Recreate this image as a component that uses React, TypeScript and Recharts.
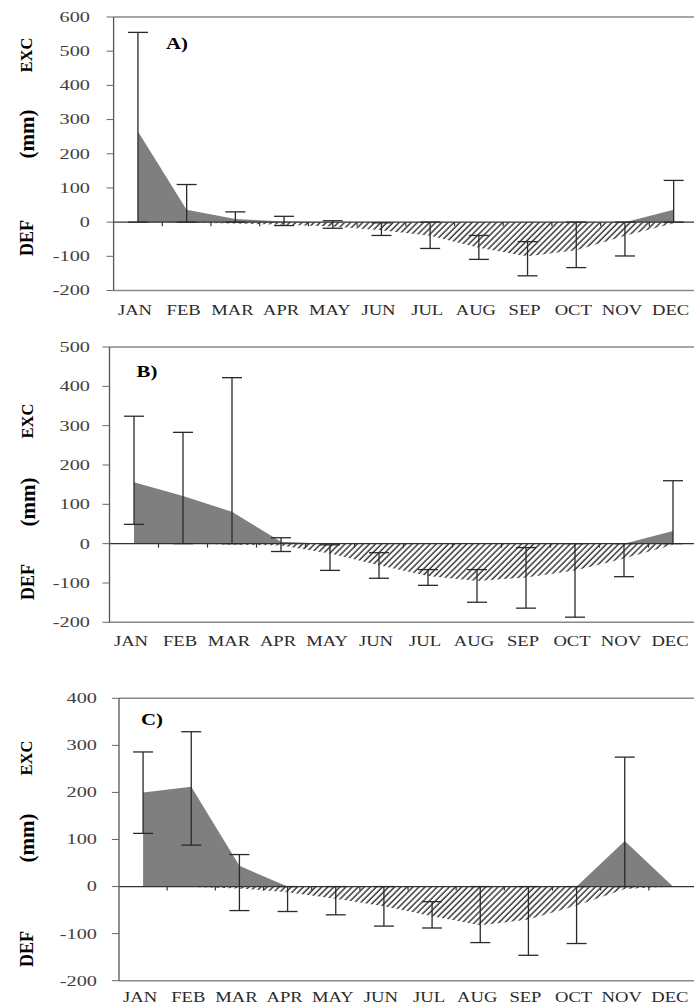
import React from "react";
import { ComposedChart, Area, Line, XAxis, YAxis, ReferenceLine, ErrorBar } from "recharts";

const months = ["JAN", "FEB", "MAR", "APR", "MAY", "JUN", "JUL", "AUG", "SEP", "OCT", "NOV", "DEC"];
const monthTicks = months.map((_, i) => i);

// A) excess / deficit (mm) and error bar ends
const excA = [265, 36, 9, 2, 0, 0, 0, 0, 0, 0, 0, 36];
const defA = [-1, -2, -4, -8, -13, -24, -40, -75, -100, -82, -40, -3];
const lowA = [0, 0, 0, -10, -18, -39, -77, -109, -157, -133, -99, 0];
const highA = [555, 110, 30, 17, 4, -2, 0, -39, -57, 0, 0, 122];
const ticksA = [-200, -100, 0, 100, 200, 300, 400, 500, 600];

// B)
const excB = [156, 121, 81, 5, 0, 0, 0, 0, 0, 0, 0, 32];
const defB = [0, 0, -2, -5, -25, -55, -82, -95, -86, -68, -38, -3];
const lowB = [49, 0, 0, -20, -68, -88, -106, -149, -164, -187, -84, 0];
const highB = [324, 283, 422, 15, -3, -23, -66, -66, -10, 0, 0, 160];
const ticksB = [-200, -100, 0, 100, 200, 300, 400, 500];

// C)
const excC = [200, 212, 44, 0, 0, 0, 0, 0, 0, 0, 97, 0];
const defC = [0, -1, -4, -12, -26, -42, -63, -82, -70, -40, -5, 0];
const lowC = [113, 88, -51, -53, -60, -84, -88, -119, -146, -121, 0, null];
const highC = [286, 329, 68, 0, 0, 0, -32, 0, 0, 0, 275, null];
const ticksC = [-200, -100, 0, 100, 200, 300, 400];

const SERIF = "'Liberation Serif', 'Times New Roman', serif";

function buildRows(exc: number[], def: number[], low: (number | null)[], high: (number | null)[]) {
  return months.map((m, i) => ({
    idx: i,
    month: m,
    exc: exc[i],
    def: def[i],
    errBase: low[i] == null ? 0 : low[i],
    err: low[i] == null || high[i] == null ? null : [0, (high[i] as number) - (low[i] as number)],
  }));
}

const YTick = (props: any) => {
  const { x, y, payload } = props;
  return (
    <text
      transform={`translate(${x},${y}) scale(1.45,1)`}
      textAnchor="end"
      dy="0.35em"
      fontFamily={SERIF}
      fontSize={14}
      fill="#404040"
    >
      {payload.value}
    </text>
  );
};

const XTick = (props: any) => {
  const { x, y, payload } = props;
  return (
    <text
      transform={`translate(${x - 3},${y}) scale(1.2,1)`}
      textAnchor="middle"
      dy="0.36em"
      fontFamily={SERIF}
      fontSize={15.5}
      fill="#2a2a2a"
    >
      {months[payload.value]}
    </text>
  );
};

// zero line with small tick marks at the month boundaries
const ZeroLine = (props: any) => {
  const { x1, x2, y1 } = props;
  const step = (x2 - x1) / months.length;
  return (
    <g>
      <line x1={x1} x2={x2} y1={y1} y2={y1} stroke="#333" strokeWidth={1.3} />
      {months.slice(1).map((m, k) => (
        <line key={m} x1={x1 + step * (k + 1)} x2={x1 + step * (k + 1)} y1={y1} y2={y1 + 4} stroke="#333" strokeWidth={1.2} />
      ))}
    </g>
  );
};

interface PanelProps {
  id: string;
  rows: ReturnType<typeof buildRows>;
  ticks: number[];
  top: number;
  height: number;
  marginTop: number;
  marginRight: number;
  yWidth: number;
  xHeight: number;
  labelGap: number;
  yTickMargin: number;
}

function Panel(p: PanelProps) {
  const lo = p.ticks[0];
  const hi = p.ticks[p.ticks.length - 1];
  return (
    <div style={{ position: "absolute", left: 0, top: p.top }}>
      <ComposedChart
        width={720}
        height={p.height}
        data={p.rows}
        margin={{ top: p.marginTop, right: p.marginRight, bottom: 0, left: 0 }}
      >
        <defs>
          <pattern id={`hatch${p.id}`} width={4.3} height={4.3} patternUnits="userSpaceOnUse" patternTransform="rotate(45)">
            <line x1={1} y1={0} x2={1} y2={4.3} stroke="#3a3a3a" strokeWidth={1.5} />
          </pattern>
        </defs>
        <XAxis
          type="number"
          dataKey="idx"
          domain={[-0.5, 11.5]}
          ticks={monthTicks}
          interval={0}
          height={p.xHeight}
          tickLine={false}
          tickSize={0}
          tickMargin={p.labelGap}
          axisLine={{ stroke: "#888", strokeWidth: 1.6 }}
          tick={<XTick />}
        />
        <YAxis
          type="number"
          domain={[lo, hi]}
          ticks={p.ticks}
          interval={0}
          width={p.yWidth}
          tickSize={7}
          tickMargin={p.yTickMargin}
          axisLine={{ stroke: "#555", strokeWidth: 1.3 }}
          tickLine={{ stroke: "#666", strokeWidth: 1 }}
          tick={<YTick />}
        />
        <ReferenceLine y={hi} stroke="#888" strokeWidth={1.6} />
        <Area
          type="linear"
          dataKey="def"
          baseValue={0}
          stroke="none"
          fill={`url(#hatch${p.id})`}
          fillOpacity={1}
          dot={false}
          activeDot={false}
          isAnimationActive={false}
        />
        <Area
          type="linear"
          dataKey="exc"
          baseValue={0}
          stroke="none"
          fill="#7f7f7f"
          fillOpacity={1}
          dot={false}
          activeDot={false}
          isAnimationActive={false}
        />
        <ReferenceLine y={0} shape={<ZeroLine />} />
        <Line
          type="linear"
          dataKey="errBase"
          stroke="none"
          dot={false}
          activeDot={false}
          isAnimationActive={false}
        >
          <ErrorBar dataKey="err" direction="y" width={10} stroke="#2a2a2a" strokeWidth={1.3} />
        </Line>
      </ComposedChart>
    </div>
  );
}

const Label = ({ x, y, text, size, rotate }: { x: number; y: number; text: string; size: number; rotate?: boolean }) => (
  <div
    style={{
      position: "absolute",
      left: x,
      top: y,
      transform: rotate ? "translate(-50%,-50%) rotate(-90deg)" : "translate(-50%,-50%) scaleX(1.3)",
      fontFamily: SERIF,
      fontWeight: "bold",
      fontSize: size,
      whiteSpace: "nowrap",
      lineHeight: 1,
      color: "#000",
    }}
  >
    {text}
  </div>
);

export default function App() {
  return (
    <div
      style={{
        position: "absolute",
        left: 0,
        top: 0,
        width: 694,
        height: 1005,
        overflow: "hidden",
        background: "#fff",
      }}
    >
      <Panel
        id="A"
        rows={buildRows(excA, defA, lowA, highA)}
        ticks={ticksA}
        top={0}
        height={320}
        marginTop={17}
        marginRight={22}
        yWidth={113.6}
        xHeight={29.5}
        labelGap={18.5}
        yTickMargin={16.6}
      />
      <Panel
        id="B"
        rows={buildRows(excB, defB, lowB, highB)}
        ticks={ticksB}
        top={310}
        height={340}
        marginTop={37}
        marginRight={22.5}
        yWidth={109.5}
        xHeight={27.7}
        labelGap={17.7}
        yTickMargin={12.5}
      />
      <Panel
        id="C"
        rows={buildRows(excC, defC, lowC, highC)}
        ticks={ticksC}
        top={660}
        height={345}
        marginTop={38.3}
        marginRight={23}
        yWidth={119}
        xHeight={24.3}
        labelGap={16}
        yTickMargin={15}
      />

      <Label x={177} y={44} text="A)" size={16} />
      <Label x={27} y={55} text="EXC" size={16.5} rotate />
      <Label x={27} y={134} text="(mm)" size={21} rotate />
      <Label x={27} y={238} text="DEF" size={18} rotate />

      <Label x={147} y={372} text="B)" size={16} />
      <Label x={28} y={421} text="EXC" size={16.5} rotate />
      <Label x={28} y={502} text="(mm)" size={21} rotate />
      <Label x={28} y={582} text="DEF" size={18} rotate />

      <Label x={152} y={720} text="C)" size={16} />
      <Label x={27} y={758} text="EXC" size={16.5} rotate />
      <Label x={27} y={838} text="(mm)" size={21} rotate />
      <Label x={27} y={949} text="DEF" size={18} rotate />
    </div>
  );
}
